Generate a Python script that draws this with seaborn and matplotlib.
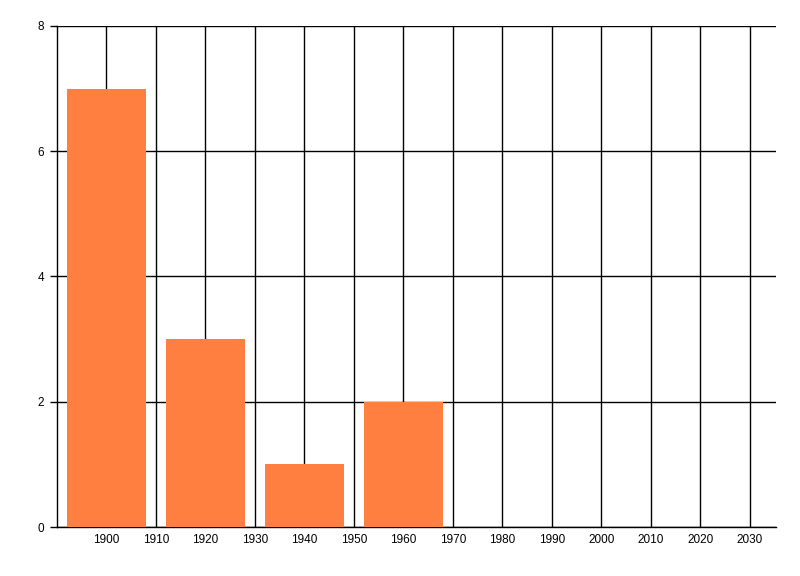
import matplotlib
matplotlib.use("Agg")
import numpy as np
import pandas as pd
import matplotlib.pyplot as plt
import seaborn as sns

# values
years = [1900, 1920, 1940, 1960]
counts = [7, 3, 1, 2]
x_ticks = list(range(1900, 2031, 10))
y_ticks = [0, 2, 4, 6, 8]

sns.set_style("white")
plt.rcParams['font.family'] = ['Liberation Sans', 'DejaVu Sans']

df = pd.DataFrame({'year': years, 'count': counts})

fig = plt.figure(figsize=(8, 5.76), dpi=100)
ax = fig.add_axes([0.071, 0.085, 0.899, 0.87])

sns.barplot(data=df, x='year', y='count', native_scale=True, width=0.8,
            color='#FF7F41', saturation=1, linewidth=0, ax=ax, zorder=3)

ax.set_xlim(1890, 2035.3)
ax.set_ylim(0, 8)
ax.set_xticks(x_ticks)
ax.set_yticks(y_ticks)
ax.set_xticklabels([str(t) for t in x_ticks])
ax.set_yticklabels([str(t) for t in y_ticks])

ax.grid(True, color='black', linewidth=1)
ax.set_axisbelow(True)

for s in ['top', 'right']:
    ax.spines[s].set_visible(False)
for s in ['left', 'bottom']:
    ax.spines[s].set_color('black')
    ax.spines[s].set_linewidth(1)

ax.tick_params(axis='x', length=0, pad=5, labelsize=8.5, colors='black')
ax.tick_params(axis='y', length=5, width=1, pad=4, labelsize=8.5, colors='black', left=True)

ax.set_xlabel('')
ax.set_ylabel('')

fig.savefig('out.png', dpi=100)
